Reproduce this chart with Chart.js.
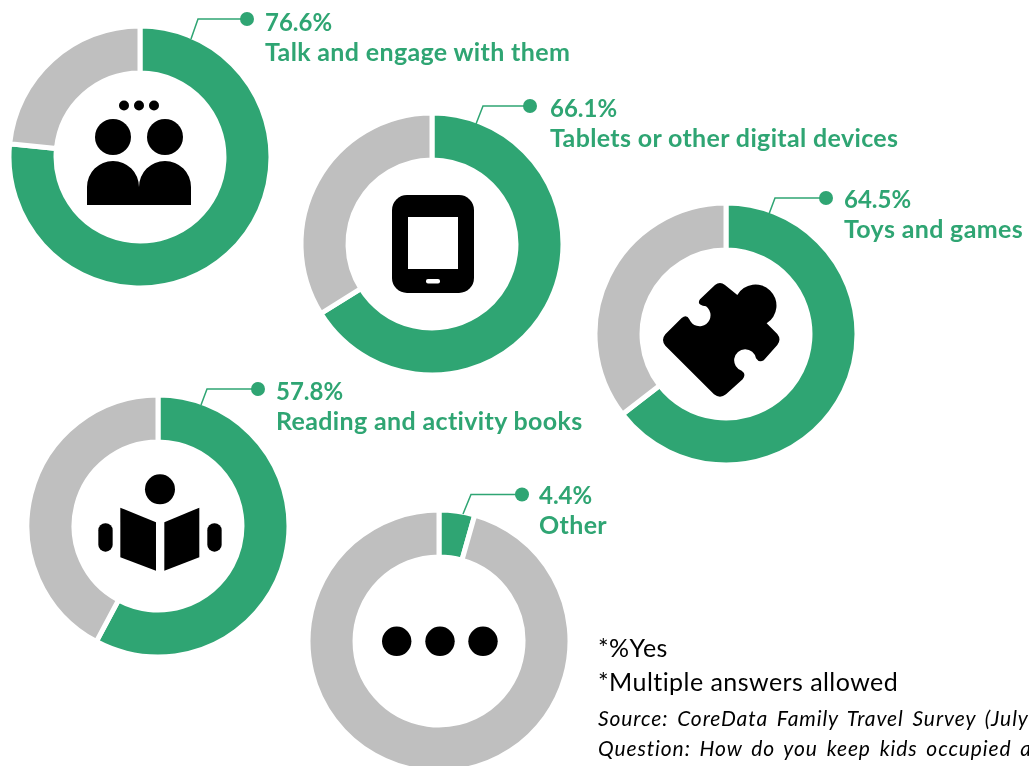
<!DOCTYPE html>
<html>
<head>
<meta charset="utf-8">
<title>Keeping kids occupied</title>
<script src="https://cdn.jsdelivr.net/npm/chart.js@4"></script>
<style>
    html, body { margin: 0; padding: 0; background: #fff; }
    #page { position: relative; width: 1029px; height: 766px; overflow: hidden; font-family: Lato, sans-serif; }
    canvas { position: absolute; }
    svg { position: absolute; left: 0; top: 0; }
    .txt { position: absolute; white-space: nowrap; line-height: 1; }
    .pct { color: #2fa573; font-weight: 700; font-size: 24px; }
    .label { color: #2fa573; font-weight: 700; font-size: 25px; letter-spacing: 0.35px; }
    .note { color: #000; font-size: 25px; letter-spacing: 0.45px; }
    .src { color: #000; font-size: 21px; font-style: italic; letter-spacing: 0.9px; word-spacing: 3px; }
</style>
</head>
<body>
<div id="page">
    <svg width="1029" height="766" id="overlay">
        <!-- people talking -->
        <g fill="#000">
            <circle cx="124" cy="105.500" r="5"/><circle cx="139" cy="105.500" r="5"/><circle cx="154" cy="105.500" r="5"/>
            <circle cx="113" cy="137" r="18"/><circle cx="165" cy="137" r="18"/>
            <path d="M87 205V187A26 26 0 0 1 139 187A26 26 0 0 1 191 187V205Z"/>
        </g>
        <!-- tablet -->
        <rect x="392" y="195" width="82" height="98" rx="15" fill="#000"/>
        <rect x="408" y="217" width="50" height="52" fill="#fff"/>
        <rect x="426" y="279" width="14" height="4.500" rx="2" fill="#fff"/>
        <!-- puzzle piece -->
        <path transform="translate(620 180) scale(0.3333)" fill="#000" d="M285 315Q300 303 315 315L352 345A63 63 0 1 1 440 430L472 462Q485 478 472 495L432 540Q418 550 408 535A33 33 0 1 0 365 572Q380 582 368 598L318 643Q300 657 282 643L136 497Q122 480 136 463L185 414Q200 402 208 418A33 33 0 1 0 258 379Q228 375 240 358Z"/>
        <!-- reader -->
        <g transform="translate(60 380) scale(0.3333)" fill="#000">
            <circle cx="300" cy="328" r="45"/>
            <path d="M181 383L288 427V572L181 532Z"/>
            <path d="M313 427L418 383V532L313 572Z"/>
            <rect x="115" y="430" width="43" height="85" rx="21"/>
            <rect x="442" y="430" width="43" height="85" rx="21"/>
        </g>
        <!-- other -->
        <g fill="#000">
            <circle cx="396.700" cy="641.300" r="14.700"/><circle cx="440" cy="641.300" r="14.700"/><circle cx="483" cy="641.300" r="14.700"/>
        </g>
    </svg>
</div>
<script>
const categories = ['Talk and engage with them', 'Tablets or other digital devices', 'Toys and games', 'Reading and activity books', 'Other'];
const yesValues = [76.6, 66.1, 64.5, 57.8, 4.4];
const restValues = [23.4, 33.9, 35.5, 42.2, 95.6];
const notes = ['*%Yes', '*Multiple answers allowed'];
const sources = ['Source: CoreData Family Travel Survey (July', 'Question: How do you keep kids occupied a'];

// layout only: ring centres, leader line points, label positions
const centers = [[139.5, 156.5], [432, 244], [726, 334], [158, 526], [438.5, 641]];
const leaders = [
    [[191, 39], [198, 19], [247, 19]],
    [[476, 124], [483, 106], [530, 106]],
    [[769, 214], [775, 198], [826, 198]],
    [[201, 405], [207, 389], [258, 389]],
    [[463, 514], [471, 494.500], [522, 494.500]]
];
const labelPos = [[265, 10], [550, 96], [844, 187], [276, 379], [539, 483]];

const GREEN = '#2fa573';
const GREY = '#bfbfbf';
const page = document.getElementById('page');
const overlay = document.getElementById('overlay');

function addText(cls, text, x, y) {
    const el = document.createElement('div');
    el.className = 'txt ' + cls;
    el.textContent = text;
    el.style.left = x + 'px';
    el.style.top = y + 'px';
    page.appendChild(el);
}

centers.forEach((c, i) => {
    const canvas = document.createElement('canvas');
    canvas.width = 270;
    canvas.height = 270;
    canvas.style.left = (c[0] - 135) + 'px';
    canvas.style.top = (c[1] - 135) + 'px';
    page.insertBefore(canvas, overlay);

    new Chart(canvas.getContext('2d'), {
        type: 'doughnut',
        data: {
            labels: ['Yes', 'No'],
            datasets: [{
                data: [yesValues[i], restValues[i]],
                backgroundColor: [GREEN, GREY],
                borderColor: '#ffffff',
                borderWidth: 5
            }]
        },
        options: {
            responsive: false,
            animation: false,
            radius: 131,
            cutout: '64.1%',
            plugins: { legend: { display: false }, tooltip: { enabled: false } }
        }
    });

    const pts = leaders[i];
    const line = document.createElementNS('http://www.w3.org/2000/svg', 'polyline');
    line.setAttribute('points', pts.map(p => p.join(',')).join(' '));
    line.setAttribute('fill', 'none');
    line.setAttribute('stroke', GREEN);
    line.setAttribute('stroke-width', '1.5');
    overlay.appendChild(line);
    const dot = document.createElementNS('http://www.w3.org/2000/svg', 'circle');
    dot.setAttribute('cx', pts[2][0]);
    dot.setAttribute('cy', pts[2][1]);
    dot.setAttribute('r', 7);
    dot.setAttribute('fill', GREEN);
    overlay.appendChild(dot);

    addText('pct', yesValues[i].toFixed(1) + '%', labelPos[i][0], labelPos[i][1]);
    addText('label', categories[i], labelPos[i][0], labelPos[i][1] + 29);
});

addText('note', notes[0], 598, 635);
addText('note', notes[1], 598, 669);
addText('src', sources[0], 598, 707);
addText('src', sources[1], 598, 737);
</script>
</body>
</html>
